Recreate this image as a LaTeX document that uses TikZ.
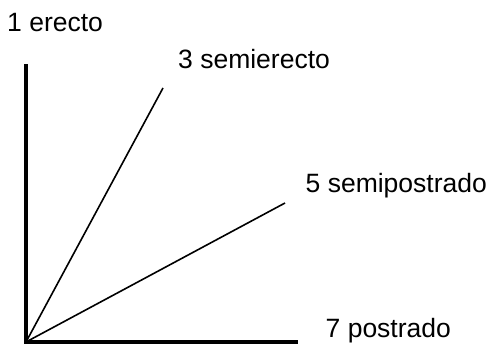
\documentclass[tikz,border=0pt]{standalone}
\usepackage{fontspec}
\setmainfont{Liberation Sans}
\begin{document}
\begin{tikzpicture}[x=1pt,y=-1pt,
  lbl/.style={anchor=base west,inner sep=0pt,font=\fontsize{26.5}{32}\selectfont},
  axis/.style={line width=4.5pt,line join=miter},
  ray/.style={line width=1.6pt}]
\useasboundingbox (0,0) rectangle (492,345);
\coordinate (o) at (26,342);
\coordinate (top) at (26,64);
\coordinate (right) at (298,342);
\coordinate (r3) at (163,88);
\coordinate (r5) at (285,203);

\node[lbl] (l1) at (7,32) {1 erecto};
\node[lbl] (l3) at (178,68) {3 semierecto};
\node[lbl] (l5) at (305.5,192) {5 semipostrado};
\node[lbl] (l7) at (325.5,337) {7 postrado};

\draw [axis] (top) -- (o) -- (right);
\path [ray] (o) edge (r3);
\path [ray] (o) edge (r5);
\end{tikzpicture}
\end{document}
